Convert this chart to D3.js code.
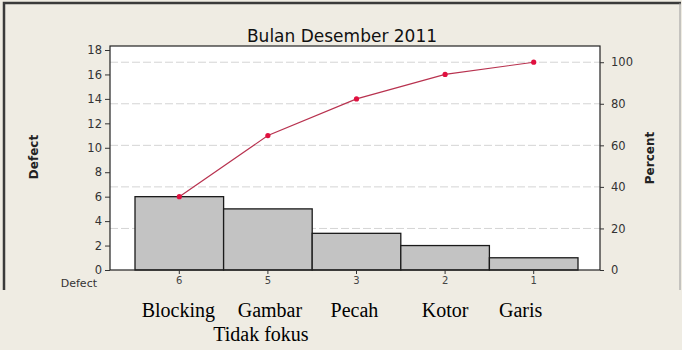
<html>
<head>
<script src="https://cdn.jsdelivr.net/npm/d3@7"></script>
<style>
  body { margin: 0; background: #efece3; }
</style>
</head>
<body>
<div id="chart"></div>
<script>
// data
var codes = ["6", "5", "3", "2", "1"];
var counts = [6, 5, 3, 2, 1];
var names = [["Blocking"], ["Gambar", "Tidak fokus"], ["Pecah"], ["Kotor"], ["Garis"]];
var countTicks = [0, 2, 4, 6, 8, 10, 12, 14, 16, 18];
var pctTicks = [0, 20, 40, 60, 80, 100];

var total = d3.sum(counts);
var cum = 0;
var cumPct = counts.map(function(c) { cum += c; return cum / total * 100; });

var W = 682, H = 350;
var plot = {left: 110, right: 600, top: 46, bottom: 270};
var sans = "DejaVu Sans, sans-serif";

var svg = d3.select("#chart").append("svg")
  .attr("width", W).attr("height", H);

svg.append("rect").attr("width", W).attr("height", H).attr("fill", "#efece3");

// frame of the pasted minitab picture
svg.append("path")
  .attr("d", "M4,290V3H681")
  .attr("fill", "none").attr("stroke", "#3a3a3a").attr("stroke-width", 2.5);
svg.append("path")
  .attr("d", "M680,3V290")
  .attr("fill", "none").attr("stroke", "#9a9a9a").attr("stroke-width", 1);

svg.append("text")
  .attr("x", 342).attr("y", 42)
  .attr("text-anchor", "middle")
  .style("font-family", sans)
  .attr("font-size", 17)
  .attr("fill", "#111")
  .text("Bulan Desember 2011");

svg.append("rect")
  .attr("x", plot.left).attr("y", plot.top)
  .attr("width", plot.right - plot.left).attr("height", plot.bottom - plot.top)
  .attr("fill", "#fff");

var y = d3.scaleLinear().domain([0, 18]).range([plot.bottom, plot.top + 4]);
var yPct = d3.scaleLinear().domain([0, 100]).range([plot.bottom, y(total)]);
var x = d3.scaleBand().domain(codes).range([135, 578]).padding(0);

// dashed reference lines at percent ticks
svg.selectAll(".grid")
  .data(pctTicks.slice(1))
  .enter().append("line")
  .attr("x1", plot.left).attr("x2", plot.right)
  .attr("y1", function(d) { return yPct(d); })
  .attr("y2", function(d) { return yPct(d); })
  .attr("stroke", "#d4d4d4")
  .attr("stroke-dasharray", "8,3");

svg.selectAll(".bar")
  .data(counts)
  .enter().append("rect")
  .attr("x", function(d, i) { return x(codes[i]); })
  .attr("y", function(d) { return y(d); })
  .attr("width", x.bandwidth())
  .attr("height", function(d) { return plot.bottom - y(d); })
  .attr("fill", "#c3c3c3")
  .attr("stroke", "#1a1a1a")
  .attr("stroke-width", 1.3);

var line = d3.line()
  .x(function(d, i) { return x(codes[i]) + x.bandwidth() / 2; })
  .y(function(d) { return yPct(d); });

svg.append("path")
  .datum(cumPct)
  .attr("d", line)
  .attr("fill", "none")
  .attr("stroke", "#b8324f")
  .attr("stroke-width", 1.2);

svg.selectAll(".pt")
  .data(cumPct)
  .enter().append("circle")
  .attr("cx", function(d, i) { return x(codes[i]) + x.bandwidth() / 2; })
  .attr("cy", function(d) { return yPct(d); })
  .attr("r", 2.6)
  .attr("fill", "#e0103f");

// plot border
svg.append("rect")
  .attr("x", plot.left).attr("y", plot.top)
  .attr("width", plot.right - plot.left).attr("height", plot.bottom - plot.top)
  .attr("fill", "none").attr("stroke", "#222").attr("stroke-width", 1.2);

var yAxis = svg.append("g")
  .attr("transform", "translate(" + plot.left + ",0)")
  .call(d3.axisLeft(y).tickValues(countTicks).tickSize(5).tickPadding(3));
var pAxis = svg.append("g")
  .attr("transform", "translate(" + plot.right + ",0)")
  .call(d3.axisRight(yPct).tickValues(pctTicks).tickSize(4).tickPadding(7));
var xAxis = svg.append("g")
  .attr("transform", "translate(0," + plot.bottom + ")")
  .call(d3.axisBottom(x).tickSize(4).tickPadding(3));

[yAxis, pAxis, xAxis].forEach(function(a) {
  a.select(".domain").remove();
  a.selectAll("line").attr("stroke", "#333");
  a.selectAll("text").attr("font-size", 11.5).attr("fill", "#333")
    .style("font-family", sans);
});
xAxis.selectAll("text").attr("font-size", 10).attr("fill", "#444");

svg.append("text")
  .attr("transform", "translate(38,157) rotate(-90)")
  .attr("text-anchor", "middle")
  .style("font-family", sans)
  .attr("font-size", 12).attr("font-weight", "bold").attr("fill", "#222")
  .text("Defect");
svg.append("text")
  .attr("transform", "translate(654,158) rotate(-90)")
  .attr("text-anchor", "middle")
  .style("font-family", sans)
  .attr("font-size", 12).attr("font-weight", "bold").attr("fill", "#222")
  .text("Percent");

svg.append("text")
  .attr("x", 97).attr("y", 287)
  .attr("text-anchor", "end")
  .style("font-family", sans)
  .attr("font-size", 11).attr("fill", "#333")
  .text("Defect");

// category names typed under the picture
var nameG = svg.selectAll(".name")
  .data(names)
  .enter().append("text")
  .attr("text-anchor", "middle")
  .style("font-family", "'Liberation Serif', 'Times New Roman', serif")
  .attr("font-size", 20)
  .attr("fill", "#000");
nameG.selectAll("tspan")
  .data(function(d, i) { return d.map(function(s) { return {s: s, i: i}; }); })
  .enter().append("tspan")
  .attr("x", function(d) { return x(codes[d.i]) + x.bandwidth() / 2 + [-1, 2, -2, 0, -13][d.i] - (d.s === "Tidak fokus" ? 9 : 0); })
  .attr("y", function(d, j) { return 317 + j * 24; })
  .text(function(d) { return d.s; });
</script>
</body>
</html>
